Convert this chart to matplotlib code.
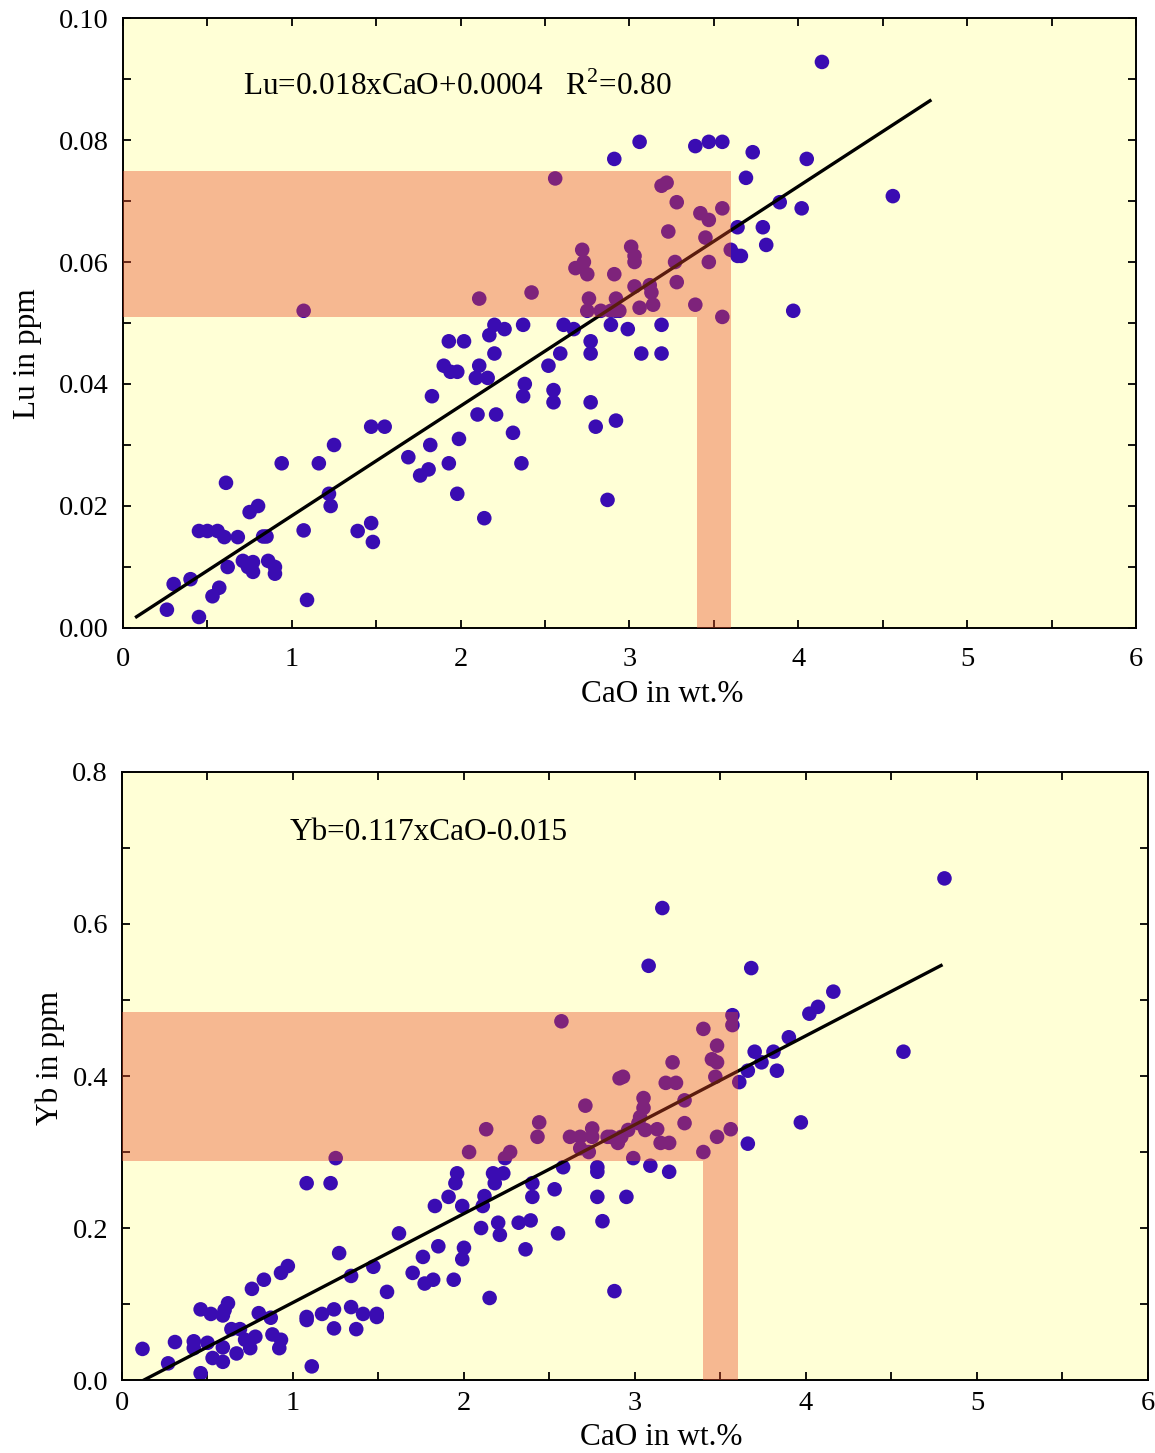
import numpy as np
import matplotlib
matplotlib.use('Agg')
import matplotlib.pyplot as plt
from matplotlib.patches import Polygon
from matplotlib.ticker import MultipleLocator, FormatStrFormatter

plt.rcParams['font.family'] = ['Liberation Serif', 'DejaVu Serif']
plt.rcParams['mathtext.fontset'] = 'custom'
plt.rcParams['mathtext.rm'] = 'Liberation Serif'

# Lu vs CaO (gorny wykres)
lu_cao = [0.26, 0.45, 0.30, 0.40, 0.53, 0.57, 0.61, 0.45, 0.50, 0.56, 0.60, 0.68, 0.75, 0.80,
          0.62, 0.71, 0.74, 0.77, 0.77, 0.83, 0.85, 0.86, 0.90, 0.90, 0.94, 1.07, 1.09, 1.16,
          1.25, 1.22, 1.23, 1.39, 1.47, 1.48, 1.47, 1.55, 1.69, 1.76, 1.81, 1.82, 1.83, 1.93,
          1.98, 1.99, 1.90, 1.94, 1.98, 1.93, 2.02, 2.10, 2.21, 2.09, 2.16, 2.11, 2.14, 2.20,
          2.17, 2.20, 2.26, 2.31, 2.36, 2.37, 2.38, 2.37, 2.52, 2.55, 2.55, 2.59, 2.61, 2.67,
          2.77, 2.77, 2.77, 2.80, 2.87, 2.89, 2.92, 2.99, 3.19, 3.07, 3.19,
          1.07, 2.11, 2.42, 2.56, 2.91, 2.72, 2.68, 2.73, 2.75, 2.91, 2.76, 2.75, 2.83, 2.92,
          2.92, 4.14, 3.06, 3.39, 3.47, 3.55, 3.73, 4.05, 3.69, 4.56, 3.89, 4.02, 3.64, 3.79,
          3.81, 3.64, 3.66, 3.97, 3.19, 3.22, 3.28, 3.42, 3.47, 3.55, 3.23, 3.45, 3.60, 3.01,
          3.03, 3.03, 3.27, 3.47, 3.28, 3.03, 3.12, 3.13, 2.89, 2.94, 3.06, 3.14, 3.39, 3.55]
lu_ppm = [0.003, 0.0018, 0.0072, 0.008, 0.0052, 0.0066, 0.0238, 0.0159, 0.0159, 0.0159, 0.0149,
          0.0149, 0.019, 0.020, 0.010, 0.011, 0.010, 0.0108, 0.0092, 0.015, 0.015, 0.011, 0.010,
          0.0089, 0.027, 0.016, 0.0046, 0.027, 0.030, 0.022, 0.020, 0.0159, 0.0172, 0.0141, 0.033,
          0.033, 0.028, 0.025, 0.026, 0.030, 0.038, 0.027, 0.022, 0.031, 0.043, 0.042, 0.042,
          0.047, 0.047, 0.035, 0.035, 0.041, 0.041, 0.043, 0.018, 0.045, 0.048, 0.0497, 0.049,
          0.032, 0.027, 0.0497, 0.040, 0.038, 0.043, 0.039, 0.037, 0.045, 0.0497, 0.049, 0.047,
          0.045, 0.037, 0.033, 0.021, 0.0497, 0.034, 0.049, 0.0497, 0.045, 0.045,
          0.052, 0.054, 0.055, 0.0737, 0.0769, 0.062, 0.059, 0.060, 0.058, 0.058, 0.054, 0.052,
          0.052, 0.054, 0.052, 0.0928, 0.0797, 0.079, 0.0797, 0.0797, 0.078, 0.0769, 0.0738,
          0.0708, 0.0698, 0.0688, 0.0657, 0.0657, 0.0628, 0.061, 0.061, 0.052, 0.0725, 0.073,
          0.0698, 0.068, 0.0669, 0.0688, 0.065, 0.064, 0.062, 0.0625, 0.061, 0.060, 0.060, 0.060,
          0.0567, 0.056, 0.0562, 0.055, 0.052, 0.052, 0.0525, 0.053, 0.053, 0.051]

# Yb vs CaO (dolny wykres)
yb_cao = [0.12, 0.27, 0.31, 0.42, 0.42, 0.46, 0.46, 0.52, 0.50, 0.53, 0.59, 0.59, 0.60, 0.62,
          0.59, 0.64, 0.69, 0.67, 0.72, 0.75, 0.78, 0.76, 0.80, 0.83, 0.87, 0.88, 0.93, 0.92,
          0.93, 0.97, 1.08, 1.08, 1.08, 1.11, 1.17, 1.22, 1.24, 1.24, 1.25, 1.27, 1.34, 1.34,
          1.37, 1.41, 1.47, 1.49, 1.49, 1.55, 1.62, 1.70, 1.76, 1.77, 1.82, 1.83, 1.85, 1.91,
          1.94, 1.96, 1.95, 1.99, 1.99, 2.00, 2.03, 2.10, 2.11, 2.12, 2.13, 2.15, 2.17, 2.18,
          2.23, 2.20, 2.21, 2.24, 2.27, 2.32, 2.36, 2.39, 2.40, 2.40, 2.43, 2.44, 2.53, 2.55,
          2.58, 2.71, 2.62, 2.68, 2.75, 2.73, 2.68, 2.75, 2.84, 2.90, 2.78, 2.78, 2.78, 2.81,
          2.88, 3.05, 3.05, 3.03, 3.02, 3.06, 3.29, 3.29, 3.13, 3.15, 3.20, 2.92, 2.96, 2.86,
          2.99, 3.40, 3.48, 3.56, 3.97, 3.66, 3.09, 3.20, 2.95, 2.57, 2.91, 4.81, 3.16, 3.08,
          3.68, 4.16, 4.07, 4.02, 3.90, 4.57, 3.70, 3.81, 3.74, 3.66, 3.83, 3.61, 3.57, 3.57,
          3.40, 3.48, 3.45, 3.48, 3.22, 2.93, 3.18, 3.24, 3.47]
yb_ppm = [0.041, 0.022, 0.050, 0.051, 0.042, 0.009, 0.093, 0.087, 0.049, 0.029, 0.024, 0.085,
          0.092, 0.101, 0.043, 0.067, 0.067, 0.035, 0.053, 0.042, 0.057, 0.120, 0.088, 0.132,
          0.082, 0.060, 0.053, 0.042, 0.141, 0.150, 0.259, 0.083, 0.079, 0.018, 0.087, 0.259,
          0.093, 0.068, 0.292, 0.167, 0.096, 0.137, 0.067, 0.087, 0.149, 0.087, 0.083, 0.116,
          0.193, 0.141, 0.162, 0.127, 0.132, 0.229, 0.176, 0.241, 0.132, 0.272, 0.259, 0.229,
          0.159, 0.174, 0.300, 0.200, 0.229, 0.242, 0.330, 0.108, 0.272, 0.259, 0.272, 0.207,
          0.191, 0.292, 0.300, 0.207, 0.172, 0.210, 0.241, 0.259, 0.320, 0.339, 0.251, 0.193,
          0.280, 0.361, 0.320, 0.320, 0.331, 0.300, 0.305, 0.320, 0.320, 0.312, 0.280, 0.274,
          0.241, 0.209, 0.117, 0.371, 0.358, 0.346, 0.338, 0.329, 0.368, 0.338, 0.330, 0.312,
          0.312, 0.320, 0.329, 0.320, 0.292, 0.300, 0.320, 0.330, 0.339, 0.311, 0.282, 0.274,
          0.241, 0.472, 0.397, 0.660, 0.621, 0.545, 0.542, 0.511, 0.491, 0.482, 0.451, 0.432,
          0.432, 0.432, 0.418, 0.407, 0.407, 0.392, 0.480, 0.467, 0.462, 0.440, 0.422, 0.418,
          0.418, 0.399, 0.391, 0.391, 0.399]

# Parametry regresji i zakres CaO dla linii
lu_fit = (0.018, 0.0004, 0.08, 4.78)
yb_fit = (0.117, -0.015, 0.13, 4.79)

# Obszary zaznaczone na pomaranczowo: (y_dol, y_gora, x_lewy, x_prawy)
lu_zone = (0.051, 0.075, 3.4, 3.6)
yb_zone = (0.288, 0.484, 3.4, 3.6)

bg = '#ffffd6'
dot = '#3a0cb2'
zone_col = '#ea4926'


def draw_panel(ax, x, y, fit, zone, ylim, ymaj, ymin, yfmt, ylabel, eq, eq_xy):
    ax.set_facecolor(bg)
    ax.scatter(x, y, s=110, color=dot, edgecolors='none', zorder=2)
    k, b, x0, x1 = fit
    xs = np.array([x0, x1])
    ax.plot(xs, k * xs + b, color='black', lw=2.4, zorder=2.2)
    y_lo, y_hi, xl, xr = zone
    poly = Polygon([(0, y_lo), (0, y_hi), (xr, y_hi), (xr, 0), (xl, 0), (xl, y_lo)],
                   closed=True, facecolor=zone_col, edgecolor='none', alpha=0.39, zorder=3)
    ax.add_patch(poly)
    ax.set_xlim(0, 6)
    ax.set_ylim(*ylim)
    ax.xaxis.set_major_locator(MultipleLocator(1))
    ax.xaxis.set_minor_locator(MultipleLocator(0.5))
    ax.yaxis.set_major_locator(MultipleLocator(ymaj))
    ax.yaxis.set_minor_locator(MultipleLocator(ymin))
    ax.yaxis.set_major_formatter(FormatStrFormatter(yfmt))
    ax.tick_params(which='both', direction='in', top=True, right=True, length=6, width=1.3,
                   labelsize=20.5)
    ax.tick_params(axis='x', pad=14)
    ax.tick_params(axis='y', pad=10)
    for sp in ax.spines.values():
        sp.set_linewidth(1.4)
    ax.set_xlabel('CaO in wt.%', fontsize=22.5)
    ax.set_ylabel(ylabel, fontsize=22.5)
    ax.text(eq_xy[0], eq_xy[1], eq, fontsize=22.5, va='center', ha='left', zorder=4)


fig = plt.figure(figsize=(11.55, 14.53), dpi=100)
ax1 = fig.add_axes([0.1065, 0.5678, 0.877, 0.4198])
ax2 = fig.add_axes([0.1056, 0.0502, 0.8883, 0.4185])

draw_panel(ax1, lu_cao, lu_ppm, lu_fit, lu_zone, (0, 0.10), 0.02, 0.01, '%.2f', 'Lu in ppm',
           'Lu=0.018xCaO+0.0004   R$^{2}$=0.80', (0.71, 0.0887))
draw_panel(ax2, yb_cao, yb_ppm, yb_fit, yb_zone, (0, 0.8), 0.2, 0.1, '%.1f', 'Yb in ppm',
           'Yb=0.117xCaO-0.015', (0.98, 0.721))
ax2.tick_params(axis='x', pad=8)

# Pozycje podpisow osi dopasowane do oryginalu
ax1.yaxis.set_label_coords(-0.080, 0.45)
ax2.yaxis.set_label_coords(-0.0556, 0.53)
ax1.xaxis.set_label_coords(0.532, -0.085)
ax2.xaxis.set_label_coords(0.526, -0.071)

fig.savefig('out.png', dpi=100)
